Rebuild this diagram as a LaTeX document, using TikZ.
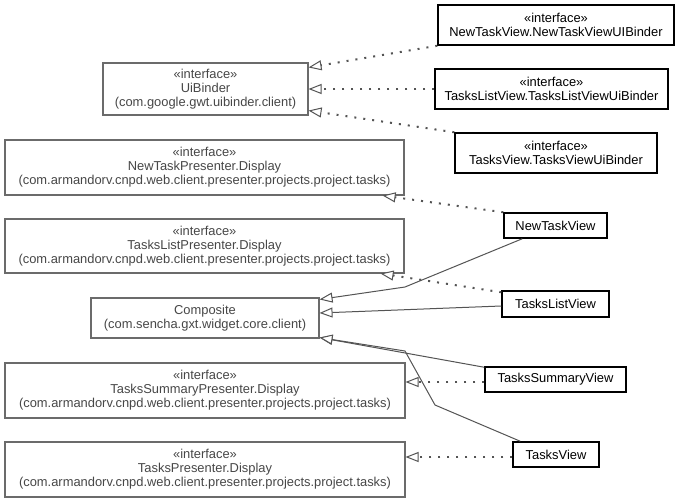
\documentclass[tikz,border=0pt]{standalone}
\usepackage{fontspec}
\setmainfont{Liberation Sans}
\usetikzlibrary{arrows.meta,calc}
\definecolor{lgray}{gray}{0.42}
\definecolor{tgray}{gray}{0.28}
\definecolor{lnc}{gray}{0.33}
\begin{document}
\begin{tikzpicture}[x=1pt,y=-1pt,
  ifbox/.style={draw=lgray,line width=1.1pt,text=tgray,align=center,inner sep=0pt,font=\fontsize{12.9}{14}\selectfont},
  clbox/.style={draw=black,line width=1.5pt,text=black,align=center,inner sep=0pt,font=\fontsize{12.9}{14}\selectfont},
  real/.style={draw=lnc,line width=2pt,dash pattern=on 2pt off 7pt,-{Triangle[open,length=13pt,width=10pt,fill=white,line width=1pt]}},
  gen/.style={draw=lnc,line width=1pt,-{Triangle[open,length=13pt,width=10pt,fill=white,line width=1pt]}}]
\useasboundingbox[fill=white] (0,0) rectangle (683,501);

\node[ifbox,minimum width=205pt,minimum height=52pt] (ui) at (205.5,89) {«interface»\\UiBinder\\(com.google.gwt.uibinder.client)};
\node[clbox,minimum width=236pt,minimum height=40pt] (ntvb) at (556,25) {«interface»\\NewTaskView.NewTaskViewUIBinder};
\node[clbox,minimum width=233pt,minimum height=40pt] (tlvb) at (551.5,89) {«interface»\\TasksListView.TasksListViewUiBinder};
\node[clbox,minimum width=202pt,minimum height=40pt] (tvb) at (556,153) {«interface»\\TasksView.TasksViewUiBinder};
\node[ifbox,minimum width=399pt,minimum height=55pt] (ntp) at (204.5,167.5) {«interface»\\NewTaskPresenter.Display\\(com.armandorv.cnpd.web.client.presenter.projects.project.tasks)};
\node[ifbox,minimum width=399pt,minimum height=54pt] (tlp) at (204.5,246) {«interface»\\TasksListPresenter.Display\\(com.armandorv.cnpd.web.client.presenter.projects.project.tasks)};
\node[ifbox,minimum width=228pt,minimum height=40pt] (comp) at (205,318) {Composite\\(com.sencha.gxt.widget.core.client)};
\node[clbox,minimum width=103pt,minimum height=25pt] (ntv) at (555.5,225.5) {NewTaskView};
\node[clbox,minimum width=107pt,minimum height=26pt] (tlv) at (555.5,304) {TasksListView};
\node[ifbox,minimum width=400pt,minimum height=55pt] (tsp) at (205,390.5) {«interface»\\TasksSummaryPresenter.Display\\(com.armandorv.cnpd.web.client.presenter.projects.project.tasks)};
\node[ifbox,minimum width=400pt,minimum height=55pt] (tp) at (205,469.5) {«interface»\\TasksPresenter.Display\\(com.armandorv.cnpd.web.client.presenter.projects.project.tasks)};
\node[clbox,minimum width=141pt,minimum height=25pt] (tsv) at (555.5,379.5) {TasksSummaryView};
\node[clbox,minimum width=86pt,minimum height=25pt] (tv) at (556,454.5) {TasksView};

\coordinate (b1) at (405,287);
\coordinate (b2) at (435,405);
\coordinate (b3) at (405,351);

% realizations (dotted)
\draw[real] (ntvb.south west) -- ($(ui.north east)+(0,5)$);
\draw[real] (tlvb.west) -- (ui.east);
\draw[real] (tvb.north west) -- ($(ui.south east)+(0,-5)$);
\draw[real] (ntv.north west) -- ($(ntp.south east)+(-22,0)$);
\draw[real] ($(tlv.north west)+(0,2)$) -- ($(tlp.south east)+(-24,0)$);
\draw[real] ($(tsv.west)+(0,2.5)$) -- ($(tsp.east)+(0,-8.5)$);
\draw[real] ($(tv.west)+(0,2.5)$) -- ($(tp.east)+(0,-12.5)$);

% generalizations (solid)
\draw[gen] ($(ntv.south west)+(19,0)$) -- (b1) -- ($(comp.north east)+(0,2)$);
\draw[gen] ($(tlv.west)+(0,2)$) -- ($(comp.east)+(0,-5)$);
\draw[gen] ($(tsv.north west)+(0,1)$) -- ($(comp.south east)+(0,-1)$);
\draw[gen] ($(tv.north west)+(8,0)$) -- (b2) -- (b3) -- ($(comp.south east)+(0,-1)$);
\end{tikzpicture}
\end{document}
